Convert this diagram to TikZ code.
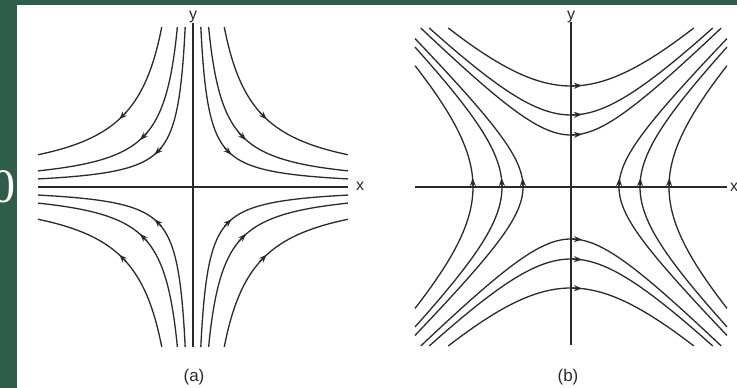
\documentclass[tikz,border=0pt]{standalone}
\usepackage{fontspec}
\setmainfont{Liberation Sans}
\newfontfamily\digitfont{Liberation Serif}
\usetikzlibrary{arrows.meta}
\definecolor{PPGreen}{HTML}{2E5E4A}
\definecolor{PPLine}{HTML}{2A2A2A}

\begin{document}
\begin{tikzpicture}[
 x=1pt,y=1pt,
 axis/.style={draw=PPLine,line width=1.3pt},
 flow/.style={draw=PPLine,line width=1.3pt},
 tip/.style={draw=PPLine,line width=1.3pt,-{Stealth[length=8pt,width=6pt]}},
 lbl/.style={font=\fontsize{16}{16}\selectfont,text=PPLine,inner sep=0pt},
 caplbl/.style={font=\fontsize{17}{17}\selectfont,text=PPLine,inner sep=0pt}
]
\fill[white] (0,0) rectangle (737,388);
\useasboundingbox (0,0) rectangle (737,388);
\fill[PPGreen] (0,0) rectangle (17,388);
\fill[PPGreen] (0,383) rectangle (737,388);
\begin{scope}
\clip (0,0) rectangle (17,388);
\node[anchor=east,text=white,font=\digitfont\fontsize{48}{48}\selectfont,inner sep=0pt] (zero) at (16,201) {0};
\end{scope}

% (a) saddle, flow in along y, out along x
\begin{scope}[shift={(193,201)}]
\draw[axis] (-155,0) -- (155,0);
\draw[axis] (0,-160) -- (0,164);
\node[lbl] (ya) at (0,170) {y};
\node[lbl] (xa) at (167,1) {x};
\foreach \sq/\ta/\tb in {35.36/-1.510/1.478,50/-1.163/1.131,70.71/-0.816/0.785}
 \foreach \sx/\sy in {1/1,-1/1,-1/-1,1/-1}{
  \draw[flow] plot[domain=\ta:\tb,samples=50,smooth] ({\sx*\sq*exp(\x)},{\sy*\sq/exp(\x)});
  \draw[tip] ({\sx*(\sq-4)},{\sy*(\sq+4)}) -- ({\sx*(\sq+3)},{\sy*(\sq-3)});
 }
\node[caplbl] (capa) at (1,-190) {(a)};
\end{scope}

% (b) hyperbolas
\begin{scope}[shift={(571,201)}]
\draw[axis] (-156,0) -- (156,0);
\draw[axis] (0,-158) -- (0,165);
\node[lbl] (yb) at (0,170) {y};
\node[lbl] (xb) at (163,0) {x};
\foreach \av/\xm in {0.52/1.5026,0.72/1.4176,1.01/1.2280}
 \foreach \sy in {1,-1}{
  \draw[flow] plot[domain=-\xm:\xm,samples=50,smooth] ({100*\x},{\sy*100*sqrt(\av*\av+(\x)^2)});
  \draw[tip] (0,{\sy*100*\av}) -- (11,{\sy*(100*\av+0.6)});
 }
\foreach \av/\ym in {0.48/1.4843,0.69/1.3991,0.98/1.2138}
 \foreach \sx in {1,-1}{
  \draw[flow] plot[domain=-\ym:\ym,samples=50,smooth] ({\sx*100*sqrt(\av*\av+(\x)^2)},{100*\x});
  \draw[tip] ({\sx*100*\av},-1) -- ({\sx*(100*\av+0.4)},9);
 }
\node[caplbl] (capb) at (-3,-190) {(b)};
\end{scope}
\end{tikzpicture}
\end{document}
